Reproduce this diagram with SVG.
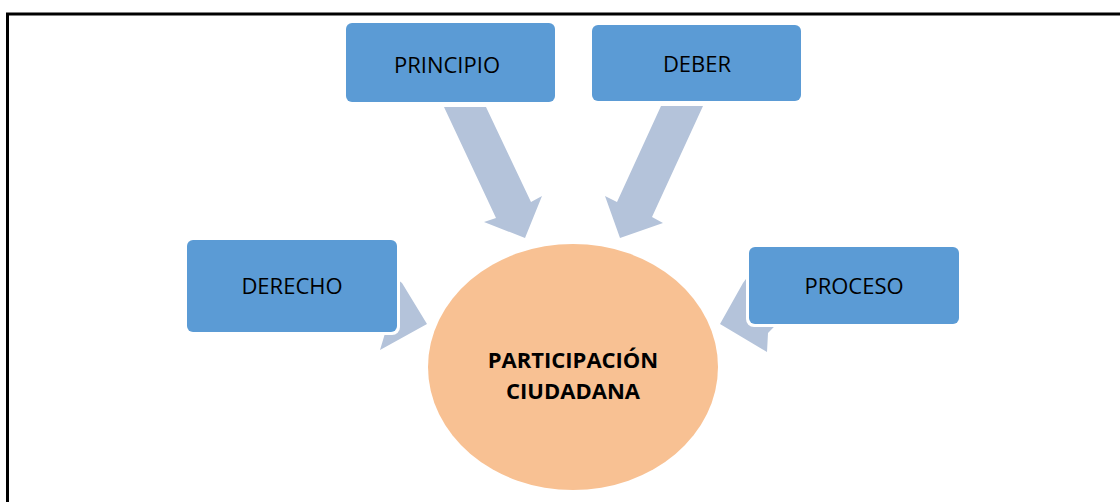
<svg xmlns="http://www.w3.org/2000/svg" width="1120" height="502" viewBox="0 0 1120 502">
<style>
.box{fill:#5B9BD5;}
.halo{fill:#fff;}
.lbl{font-family:"Open Sans","Liberation Sans",sans-serif;font-size:22px;fill:#000;text-anchor:middle;}
.arr{fill:#B4C3DA;}
.ctr{font-family:"Open Sans","Liberation Sans",sans-serif;font-size:22px;font-weight:bold;fill:#000;text-anchor:middle;}
</style>
<rect width="1120" height="502" fill="#fff"/>
<path d="M7.5 502 V14 H1120" fill="none" stroke="#000" stroke-width="3"/>
<g id="connectors">
<polygon class="arr" points="444,107 486,107 531,202 542,196 525,238 484,222 496,218"/>
<polygon class="arr" points="703,106 661,106 617,202 605,196 620,238 663,223 652,217"/>
<polygon class="arr" points="360,300 385,270 402,283 427,324 380,350 386,330"/>
<polygon class="arr" points="800,300 760,260 743,283 720,324 767,352 768,333"/>
</g>
<g id="participacion">
<ellipse cx="573" cy="367" rx="145" ry="123" fill="#F8C193"/>
<text class="ctr" x="573" y="368">PARTICIPACIÓN</text>
<text class="ctr" x="573" y="399">CIUDADANA</text>
</g>
<g id="principio">
<rect class="box" x="346" y="23" width="209" height="79" rx="6"/>
<text class="lbl" x="447" y="73">PRINCIPIO</text>
</g>
<g id="deber">
<rect class="box" x="592" y="25" width="209" height="76" rx="6"/>
<text class="lbl" x="697" y="72">DEBER</text>
</g>
<g id="derecho">
<rect class="halo" x="184" y="237" width="216" height="98" rx="8"/>
<rect class="box" x="187" y="240" width="210" height="92" rx="6"/>
<text class="lbl" x="292" y="294">DERECHO</text>
</g>
<g id="proceso">
<rect class="halo" x="746" y="244" width="216" height="83" rx="8"/>
<rect class="box" x="749" y="247" width="210" height="77" rx="6"/>
<text class="lbl" x="854" y="294">PROCESO</text>
</g>
</svg>
